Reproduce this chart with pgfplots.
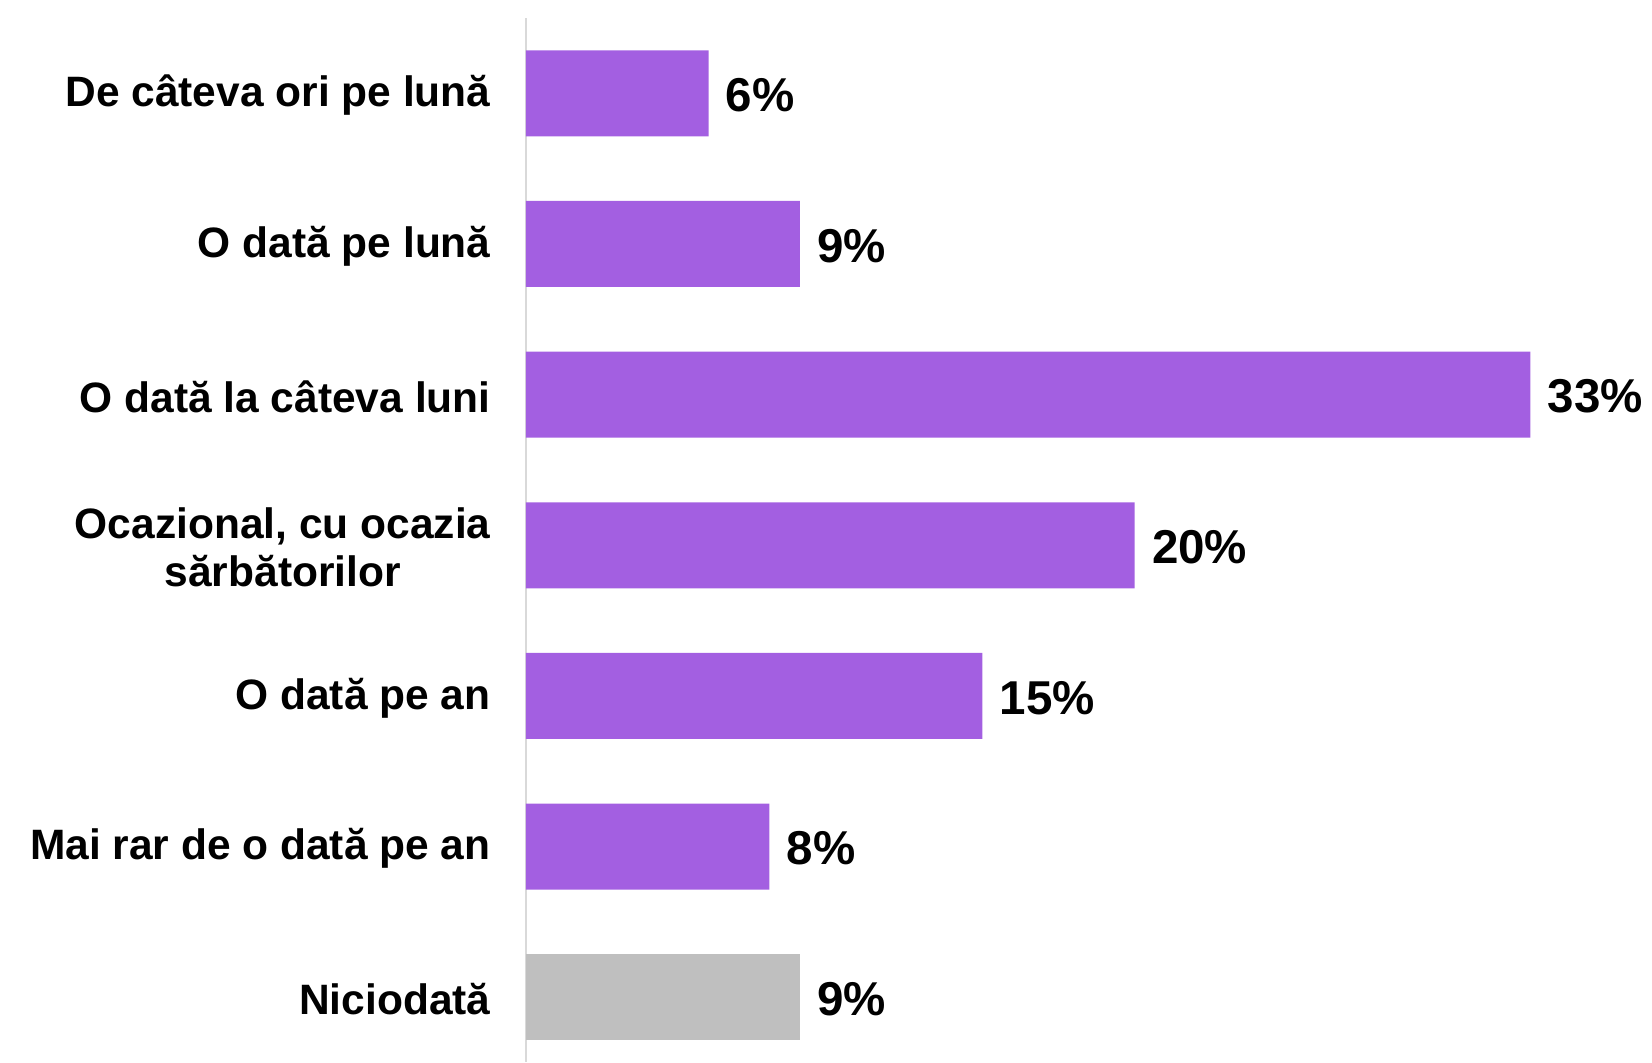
\documentclass[border=0pt]{standalone}
\usepackage{pgfplots}
\pgfplotsset{compat=1.18}
\usepackage{fontspec}
\setmainfont{Liberation Sans}
\definecolor{barpurple}{RGB}{163,95,225}
\definecolor{bargray}{RGB}{191,191,191}
\definecolor{axisgray}{RGB}{217,217,217}
\begin{document}
\begin{tikzpicture}
\begin{axis}[
 scale only axis, width=563pt, height=522pt,
 xmin=0, xmax=37, ymin=-0.5, ymax=6.43, y dir=reverse,
 axis x line=none, axis y line=left,
 axis line style={-, draw=axisgray, line width=1pt},
 xtick=\empty, ytick={0,1,2,3,4,5,6},
 yticklabels={De câteva ori pe lună, O dată pe lună, O dată la câteva luni, {Ocazional, cu ocazia\\sărbătorilor}, O dată pe an, Mai rar de o dată pe an, Niciodată},
 major tick length=0pt,
 yticklabel style={font=\bfseries\fontsize{21.25}{24.3}\selectfont, align=center, inner sep=0pt, xshift=-17.5pt, yshift=-1pt, anchor=east},
 xbar, bar width=43pt, bar shift=0pt,
 point meta=x,
 /pgf/number format/assume math mode=true,
 nodes near coords={\pgfmathprintnumber{\pgfplotspointmeta}\%},
 nodes near coords style={font=\bfseries\fontsize{23.75}{28}\selectfont, anchor=west, inner sep=0pt, xshift=8.5pt, yshift=-1pt, text=black},
 clip=false,
]
\addplot[fill=barpurple, draw=none] coordinates {(6,0) (9,1) (33,2) (20,3) (15,4) (8,5)};
\addplot[fill=bargray, draw=none] coordinates {(9,6)};
\end{axis}
\pgfresetboundingbox
\path[use as bounding box] ([xshift=-263pt]current axis.south west) rectangle ([yshift=9pt]current axis.north east);
\end{tikzpicture}
\end{document}
